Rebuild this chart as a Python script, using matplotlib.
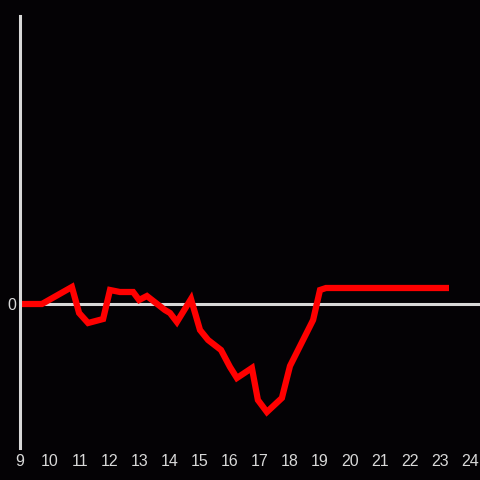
import matplotlib
matplotlib.use("Agg")
import matplotlib.pyplot as plt

plt.rcParams["font.family"] = ["Liberation Sans", "DejaVu Sans"]

# hour of day and value
hours = [9.0, 9.73, 10.73, 10.97, 11.27, 11.77, 12.0, 12.33, 12.77, 12.97,
         13.23, 13.83, 14.0, 14.23, 14.7, 15.0, 15.27, 15.7, 16.0, 16.23,
         16.73, 16.93, 17.23, 17.73, 18.0, 18.77, 19.0, 19.2, 23.3]
values = [0.0, 0.0, 1.7, -0.9, -1.9, -1.5, 1.4, 1.2, 1.2, 0.4,
          0.8, -0.6, -0.9, -1.8, 0.5, -2.6, -3.6, -4.6, -6.3, -7.4,
          -6.4, -9.6, -10.8, -9.4, -6.2, -1.6, 1.4, 1.6, 1.6]
xticks = list(range(9, 25))

bg = "#040205"
fg = "#d8d8d8"

fig = plt.figure(figsize=(4.8, 4.8), dpi=100, facecolor=bg)
ax = fig.add_axes([20/480, 32/480, 460/480, 432/480], facecolor=bg)

ax.axhline(0, color=fg, lw=2.2, zorder=1)
ax.plot(hours, values, color="#ff0000", lw=4.5, solid_joinstyle="miter",
        solid_capstyle="butt", zorder=2)

ax.set_xlim(9, 9 + 460/30)
ax.set_ylim(-14.4, 28.8)

for s in ["top", "right", "bottom"]:
    ax.spines[s].set_visible(False)
ax.spines["left"].set_color(fg)
ax.spines["left"].set_linewidth(2.2)

ax.set_xticks(xticks)
ax.set_xticklabels([str(t) for t in xticks])
ax.set_yticks([0])
ax.set_yticklabels(["0"])
ax.tick_params(length=0, colors=fg, labelsize=11.5)
ax.tick_params(axis="x", pad=4)
ax.tick_params(axis="y", pad=3)

fig.savefig("out.png", dpi=100, facecolor=bg)
